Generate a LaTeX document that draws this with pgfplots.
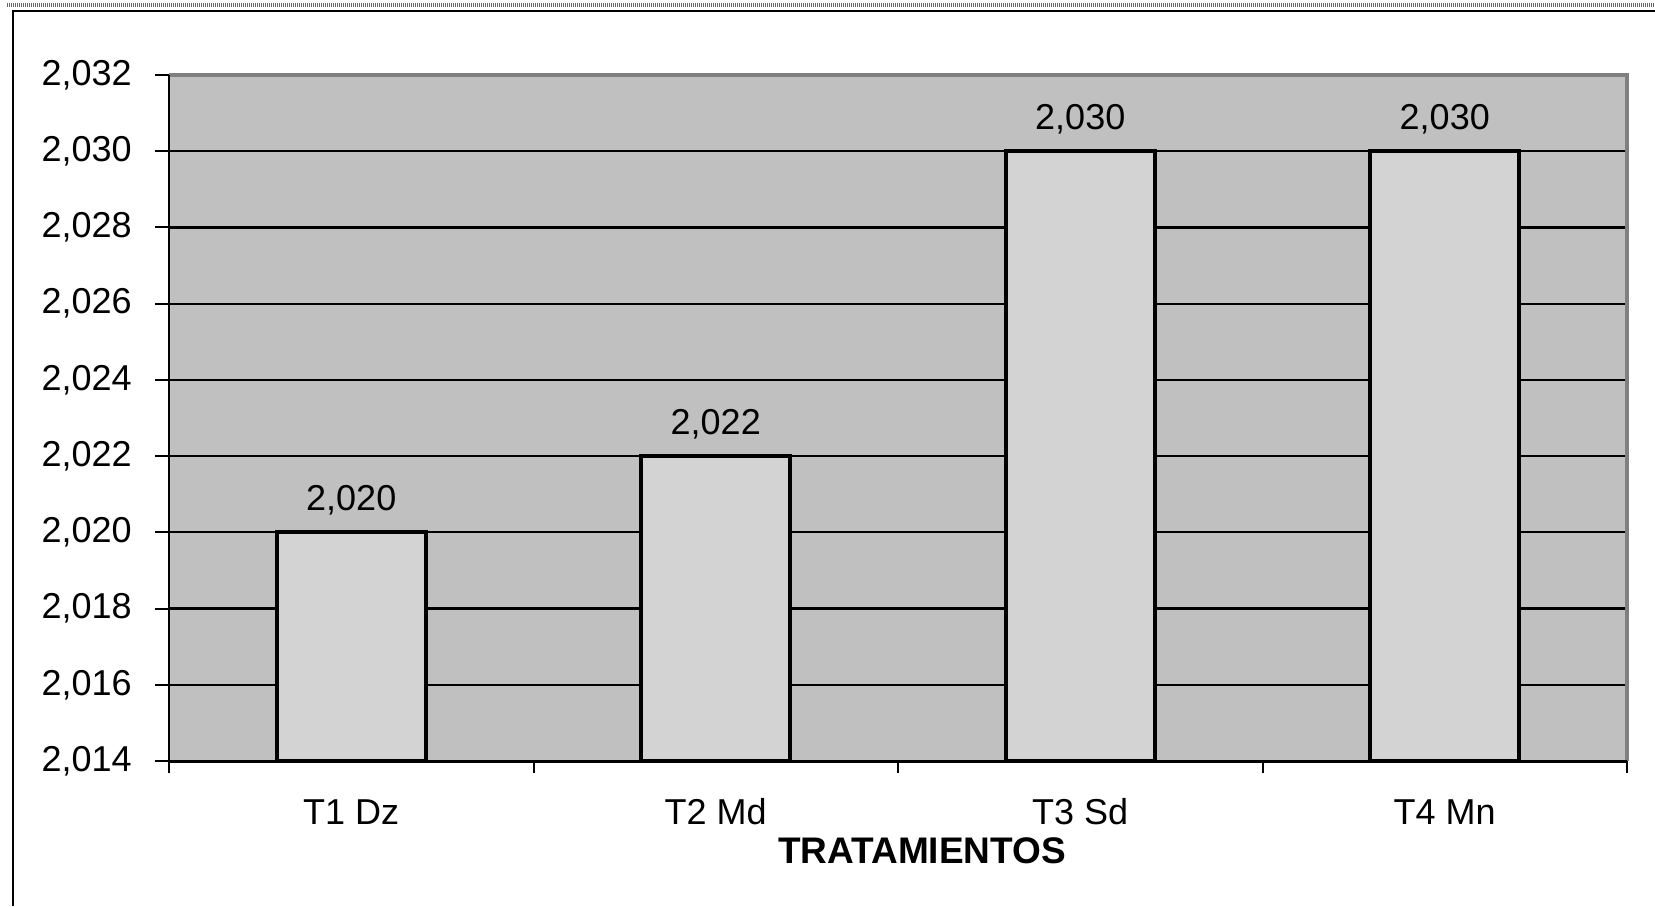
\documentclass[border=0pt]{standalone}
\usepackage{fontspec}
\setmainfont{Liberation Sans}
\usepackage{pgfplots}
\pgfplotsset{compat=1.18}

\definecolor{plotbg}{HTML}{C0C0C0}
\definecolor{barfill}{HTML}{D3D3D3}
\definecolor{framegray}{HTML}{808080}

\begin{document}
\begin{tikzpicture}[x=1pt,y=1pt]
\useasboundingbox (0,0) rectangle (827.5,453);
% outer frame of the chart
\draw[line width=1pt] (6.5,0) -- (6.5,447.5) -- (827.5,447.5);
\draw[line width=2pt, black!60, dash pattern=on 0.5pt off 0.5pt] (3.5,450.5) -- (827.5,450.5);

\begin{axis}[
  name=ax,
  at={(84.5pt,72.5pt)}, anchor=south west,
  scale only axis, width=729pt, height=343pt,
  xmin=-0.5, xmax=3.5, ymin=2.014, ymax=2.032,
  ytick={2.014,2.016,2.018,2.020,2.022,2.024,2.026,2.028,2.030,2.032},
  xtick={0,1,2,3},
  xticklabels={T1 Dz, T2 Md, T3 Sd, T4 Mn},
  minor xtick={-0.5,0.5,1.5,2.5,3.5},
  major x tick style={draw=none},
  tick pos=left,
  tick align=outside,
  major tick length=7pt,
  minor tick length=6pt,
  tick style={black, line width=1pt},
  ymajorgrids,
  grid style={black, line width=1.1pt},
  axis background/.style={fill=plotbg},
  axis line style={draw=none},
  ticklabel style={font=\fontsize{18}{21}\selectfont},
  yticklabel style={
    /pgf/number format/.cd, fixed, fixed zerofill, precision=3,
    use comma, 1000 sep={}, assume math mode=true,
    /tikz/.cd, anchor=east, inner sep=0pt, xshift=-11.5pt},
  xticklabel style={anchor=base, inner sep=0pt, yshift=-25pt},
  xlabel={TRATAMIENTOS},
  xlabel style={at={(axis description cs:0.5,0)}, anchor=base,
    inner sep=0pt, yshift=-51pt, xshift=12pt,
    font=\fontsize{18.5}{21}\selectfont\bfseries},
  ybar,
  bar width=0.41,
  nodes near coords,
  nodes near coords style={
    /pgf/number format/.cd, fixed, fixed zerofill, precision=3,
    use comma, 1000 sep={}, assume math mode=true,
    /tikz/.cd, anchor=base, yshift=11pt,
    font=\fontsize{18}{21}\selectfont},
]
\addplot[fill=barfill, draw=black, line width=2pt]
  coordinates {(0,2.020) (1,2.022) (2,2.030) (3,2.030)};
\end{axis}

% plot-area border: grey top and right, black axis lines left and bottom
\draw[framegray, line width=2pt] (ax.north west) -- (ax.north east) -- (ax.south east);
\draw[line width=1pt] (ax.south west) -- (ax.north west);
\draw[line width=1.5pt] (ax.south west) -- (ax.south east);
\end{tikzpicture}
\end{document}
